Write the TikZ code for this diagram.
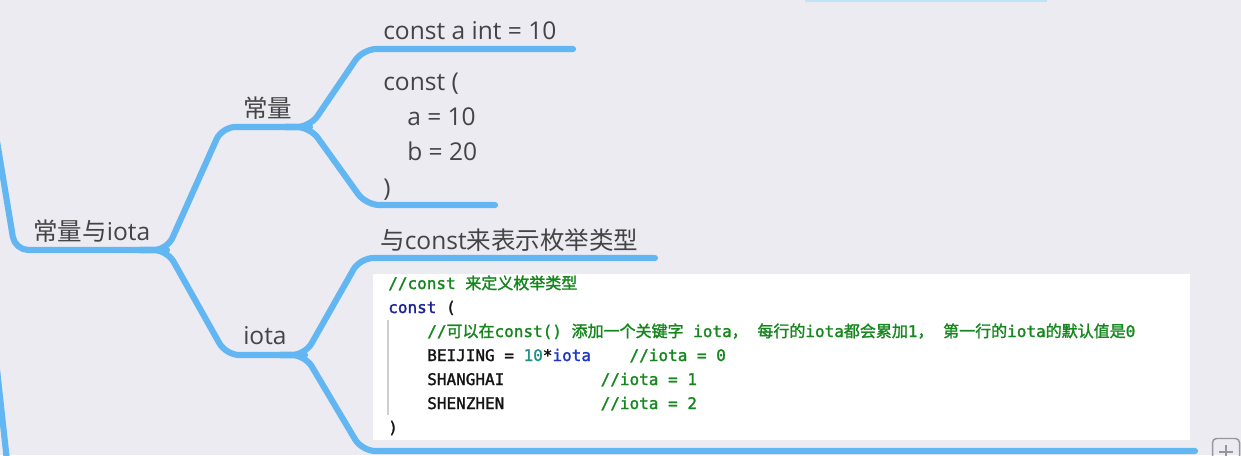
\documentclass[tikz,border=0pt]{standalone}
\usepackage{fontspec}
\setmainfont{Open Sans}
\newfontfamily\cjk{Noto Sans CJK SC}
\newfontfamily\mono[RawFeature={embolden=1.6}]{DejaVu Sans Mono}
\newfontfamily\cjkcode[RawFeature={embolden=1.6}]{Noto Sans CJK SC}
\definecolor{bg}{RGB}{237,235,242}
\definecolor{lineblue}{RGB}{98,182,242}
\definecolor{faintblue}{RGB}{190,228,250}
\definecolor{labelgray}{RGB}{68,68,70}
\definecolor{cmt}{RGB}{22,135,30}
\definecolor{kw}{RGB}{28,32,150}
\definecolor{num}{RGB}{35,145,135}
\definecolor{io}{RGB}{30,55,200}
\definecolor{codeblack}{RGB}{20,20,20}
\definecolor{guide}{RGB}{205,205,210}
\definecolor{icon}{RGB}{150,150,158}
\tikzset{
  branch/.style={draw=lineblue, line width=4.6pt, line cap=round, line join=round, rounded corners=10pt},
  lbl/.style={font=\fontsize{18.4}{26.6}\selectfont, text=labelgray, inner sep=0pt, anchor=base west},
  codeln/.style={font=\mono\fontsize{12}{16}\selectfont, text=codeblack, inner sep=0pt, anchor=base west},
}
\frenchspacing
\begin{document}
\begin{tikzpicture}[x=0.75pt,y=-0.75pt]
\useasboundingbox (0,0) rectangle (1241,455);
\clip (0,0) rectangle (1241,455);
\fill[bg] (0,0) rectangle (1241,455);
% faint line at the top edge
\draw[faintblue, line width=2pt] (805,0.5) -- (1047,0.5);
% code box
\fill[white] (373,274) rectangle (1190,440);
\draw[guide, line width=0.8pt] (388,320) -- (388,415);

% junction and corner coordinates
\coordinate (offTop) at (-9,105);
\coordinate (rootC) at (15,250);
\coordinate (j0in) at (140,250);
\coordinate (j0) at (167,250);
\coordinate (offBot1) at (-6,342);
\coordinate (offBot2) at (8,470);
\coordinate (c1) at (222,127);
\coordinate (j1in) at (285,127);
\coordinate (j1) at (310,127);
\coordinate (c2) at (226,355);
\coordinate (j2in) at (280,355);
\coordinate (j2) at (305,355);
\coordinate (c11) at (363,49);
\coordinate (e11) at (573,49);
\coordinate (c12) at (366,205);
\coordinate (e12) at (495,205);
\coordinate (c21) at (360,258);
\coordinate (e21) at (655,258);
\coordinate (c22) at (362,451);
\coordinate (e22) at (1195,451);

% connectors
\draw[branch] (offTop) -- (rootC) -- (j0);
\draw[branch] (offBot1) -- (offBot2);
\draw[branch] (j0in) -- (j0) -- (c1) -- (j1);
\draw[branch] (j0in) -- (j0) -- (c2) -- (j2);
\draw[branch] (j1in) -- (j1) -- (c11) -- (e11);
\draw[branch] (j1in) -- (j1) -- (c12) -- (e12);
\draw[branch] (j2in) -- (j2) -- (c21) -- (e21);
\draw[branch] (j2in) -- (j2) -- (c22) -- (e22);

% topic labels
\node[lbl] (tRoot) at (33,240) {{\cjk 常量与}iota};
\node[lbl] (tConst) at (243,117) {{\cjk 常量}};
\node[lbl] (tIota) at (243,344) {iota};
\node[lbl] (tA) at (383,39) {const a int = 10};
\node[lbl] (tB) at (383,90) {\begin{tabular}[t]{@{}l@{}}const (\\\hspace*{18pt}a = 10\\\hspace*{18pt}b = 20\\)\end{tabular}};
\node[lbl] (tEnum) at (380,249) {{\cjk 与}const{\cjk 来表示枚举类型}};

% code lines
\node[codeln] (l1) at (388,289) {\color{cmt}//const {\cjkcode 来定义枚举类型}};
\node[codeln] (l2) at (388,313) {{\color{kw}const} (};
\node[codeln] (l3) at (427,337) {\color{cmt}//{\cjkcode 可以在}const() {\cjkcode 添加一个关键字} iota{\cjkcode ，} {\cjkcode 每行的}iota{\cjkcode 都会累加}1{\cjkcode ，} {\cjkcode 第一行的}iota{\cjkcode 的默认值是}0};
\node[codeln] (l4) at (427,361) {BEIJING = {\color{num}10}*{\color{io}iota}\ \ \ \ {\color{cmt}//iota = 0}};
\node[codeln] (l5) at (427,385) {SHANGHAI\ \ \ \ \ \ \ \ \ \ {\color{cmt}//iota = 1}};
\node[codeln] (l6) at (427,409) {SHENZHEN\ \ \ \ \ \ \ \ \ \ {\color{cmt}//iota = 2}};
\node[codeln] (l7) at (388,433) {)};

% plus icon at the corner
\draw[icon, line width=1.1pt, rounded corners=3pt] (1212.5,438.5) rectangle (1239.5,468);
\draw[icon, line width=1.1pt] (1219,452) -- (1233,452) (1226,445) -- (1226,459);
\end{tikzpicture}
\end{document}
